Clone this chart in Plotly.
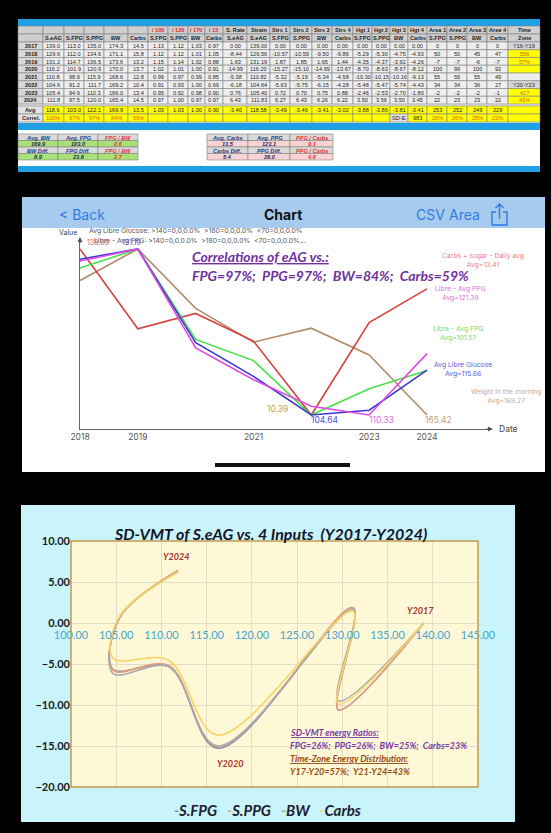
import plotly.graph_objects as go

W, H = 551, 833


def px(x):
    return x / W


def py(y):
    return 1 - y / H


# ---------------- DATA: spreadsheet table ----------------
years = ["2017", "2018", "2019", "2020", "2021", "2022", "2023", "2024"]
s_eag = [139.0, 129.6, 131.2, 116.2, 110.8, 104.6, 105.4, 111.8]
s_fpg = [113.0, 112.0, 114.7, 101.9, 98.9, 91.2, 94.9, 97.5]
s_ppg = [135.0, 134.6, 136.5, 120.9, 115.9, 111.7, 110.3, 120.0]
bw = [174.3, 171.1, 173.6, 170.0, 168.6, 169.2, 166.0, 165.4]
carbs = [14.5, 15.8, 13.2, 13.7, 12.8, 10.4, 13.4, 14.5]
n_fpg = [1.13, 1.12, 1.15, 1.02, 0.99, 0.91, 0.95, 0.97]
n_ppg = [1.12, 1.12, 1.14, 1.01, 0.97, 0.93, 0.92, 1.00]
n_bw = [1.03, 1.01, 1.02, 1.00, 0.99, 1.00, 0.98, 0.97]
n_carbs = [0.97, 1.05, 0.88, 0.91, 0.85, 0.69, 0.90, 0.97]
s_rate = [0.00, -8.44, 1.63, -14.99, -5.38, -6.18, 0.76, 6.43]
strain = [139.00, 129.56, 131.19, 116.20, 110.82, 104.64, 105.40, 111.83]
strs1 = [0.00, -10.57, 1.87, -15.27, -5.32, -5.63, 0.72, 6.27]
strs2 = [0.00, -10.59, 1.85, -15.10, -5.19, -5.75, 0.70, 6.43]
strs3 = [0.00, -9.50, 1.65, -14.99, -5.34, -6.15, 0.75, 6.26]
strs4 = [0.00, -9.86, 1.44, -13.67, -4.58, -4.28, 0.88, 6.22]
hgt1 = [0.00, -5.29, -4.35, -8.70, -10.30, -5.48, -2.46, 3.50]
hgt2 = [0.00, -5.30, -4.37, -8.63, -10.15, -5.47, -2.53, 3.56]
hgt3 = [0.00, -4.75, -3.92, -8.67, -10.16, -5.74, -2.70, 3.50]
hgt4 = [0.00, -4.93, -4.26, -8.12, -9.13, -4.43, -1.80, 3.45]
area1 = [0, 50, -7, 100, 55, 34, -2, 22]
area2 = [0, 50, -7, 99, 55, 34, -2, 23]
area3 = [0, 45, -6, 100, 55, 36, -2, 23]
area4 = [0, 47, -7, 92, 49, 27, -1, 22]
time_zone = ["Y16-Y19", "556", "57%", "", "", "Y20-Y23", "427", "43%"]

head1 = ["", "", "", "", "", "", "/ 100", "/ 120", "/ 170", "/ 15", "S. Rate", "Strain",
         "Strs 1", "Strs 2", "Strs 3", "Strs 4", "Hgt 1", "Hgt 2", "Hgt 3", "Hgt 4",
         "Area 1", "Area 2", "Area 3", "Area 4", "Time"]
head2 = ["", "S.eAG", "S.FPG", "S.PPG", "BW", "Carbs", "S.FPG", "S.PPG", "BW", "Carbs",
         "S.eAG", "S.eAG", "S.FPG", "S.PPG", "BW", "Carbs", "S.FPG", "S.PPG", "BW", "Carbs",
         "S.FPG", "S.PPG", "BW", "Carbs", "Zone"]
avg_row = ["Avg", "118.6", "103.0", "122.1", "169.9", "13.5", "1.03", "1.03", "1.00", "0.90",
           "-3.40", "118.58", "-3.49", "-3.46", "-3.41", "-3.02", "-3.88", "-3.86", "-3.81",
           "-3.41", "253", "252", "249", "229", ""]
correl_row = ["Correl.", "100%", "97%", "97%", "84%", "59%", "", "", "", "", "", "", "", "",
              "", "", "", "", "SD-E:", "983", "26%", "26%", "25%", "23%", ""]

# summary blocks
sum_left_h1 = ["Avg. BW", "Avg. FPG", "FPG / BW"]
sum_left_v1 = ["169.9", "103.0", "0.6"]
sum_left_h2 = ["BW Diff.", "FPG Diff.", "FPG / BW"]
sum_left_v2 = ["8.9", "23.6", "2.7"]
sum_mid_h1 = ["Avg. Carbs", "Avg. PPG", "PPG / Carbs"]
sum_mid_v1 = ["13.5", "123.1", "9.1"]
sum_mid_h2 = ["Carbs Diff.", "PPG Diff.", "PPG / Carbs"]
sum_mid_v2 = ["5.4", "26.0", "4.8"]

# ---------------- DATA: phone chart (Libre app) ----------------
libre_years = [2018, 2019, 2020, 2021, 2022, 2023, 2024]
libre_eag = [129.56, 131.19, 116.20, 110.82, 104.64, 105.40, 111.83]
libre_ppg = [134.6, 136.5, 120.9, 115.9, 111.7, 110.33, 120.0]
libre_fpg = [112.0, 114.7, 101.9, 98.9, 91.2, 94.9, 97.5]
carbs_daily = [15.8, 13.2, 13.7, 12.8, 10.39, 13.4, 14.5]
weight_morning = [171.2, 172.55, 170.0, 168.55, 169.15, 168.0, 165.42]
x_tick_years = [2018, 2019, 2021, 2023, 2024]

# ---------------- DATA: SD-VMT chart ----------------
vmt_series = [("S.FPG", strs1, "#7d86b8"), ("S.PPG", strs2, "#e3a07a"),
              ("BW", strs3, "#a9a9a9"), ("Carbs", strs4, "#f7d564")]
vmt_xticks = [100, 105, 110, 115, 120, 125, 130, 135, 140, 145]

shapes = []
annotations = []


def rect(x0, y0, x1, y1, fill, line=None, lw=0):
    shapes.append(dict(type="rect", xref="paper", yref="paper", x0=px(x0), x1=px(x1),
                       y0=py(y1), y1=py(y0), fillcolor=fill, layer="below",
                       line=dict(color=line or fill, width=lw)))


def text(x, y, t, size, color, family="Liberation Sans", weight="normal", style="normal",
         xanchor="center", yanchor="middle", under=False):
    if t == "":
        return
    f = dict(family=family, size=size, color=color, weight=weight, style=style)
    if under:
        f["lineposition"] = "under"
    annotations.append(dict(x=px(x), y=py(y), xref="paper", yref="paper", text=t,
                            showarrow=False, font=f, xanchor=xanchor, yanchor=yanchor))


# ================= TOP TABLE =================
col_widths = [25, 21, 20, 20, 24, 20, 20, 20, 17, 18, 24, 23, 20, 22, 20, 21, 19, 18, 18, 19,
              20, 20, 20, 21, 32]
edges = [18]
for w in col_widths:
    edges.append(edges[-1] + w)
TX0, TX1 = edges[0], edges[-1]

BLUE = "#1f9fe4"
HEAD = "#cfcfcf"
YCOL = "#d7d7d7"
CELL = "#eeeeee"
YEL = "#ffff00"
ORANGE = "#d9600f"
DARK = "#1e1e1e"
GRID = "#7f7f7f"

rect(TX0, 19, TX1, 26, BLUE)
rect(TX0, 26, TX1, 123, "#e6e6e6")

row_h = 7.75
table_rows = []
table_rows.append((26, 34, head1, [HEAD] * 25,
                   ["#e02828" if t.startswith("/") else DARK for t in head1], "bold"))
table_rows.append((34, 42, head2, [HEAD] * 25, [DARK] * 25, "bold"))
tz_fill = [YCOL, YEL, YEL, YEL, CELL, YCOL, YEL, YEL]
for i in range(8):
    vals = [years[i], f"{s_eag[i]:.1f}", f"{s_fpg[i]:.1f}", f"{s_ppg[i]:.1f}", f"{bw[i]:.1f}",
            f"{carbs[i]:.1f}", f"{n_fpg[i]:.2f}", f"{n_ppg[i]:.2f}", f"{n_bw[i]:.2f}",
            f"{n_carbs[i]:.2f}", f"{s_rate[i]:.2f}", f"{strain[i]:.2f}", f"{strs1[i]:.2f}",
            f"{strs2[i]:.2f}", f"{strs3[i]:.2f}", f"{strs4[i]:.2f}", f"{hgt1[i]:.2f}",
            f"{hgt2[i]:.2f}", f"{hgt3[i]:.2f}", f"{hgt4[i]:.2f}", str(area1[i]), str(area2[i]),
            str(area3[i]), str(area4[i]), time_zone[i]]
    fills = [YCOL] + [CELL] * 23 + [tz_fill[i]]
    cols = [DARK] * 24 + [DARK if time_zone[i].startswith("Y") else ORANGE]
    y0 = 42 + row_h * i
    table_rows.append((y0, y0 + row_h, vals, fills, cols, "normal"))

table_rows.append((106, 114, avg_row, ["#e2e2e2"] + [YEL] * 24, [DARK] * 25, "normal"))
correl_fill = ["#e2e2e2"] + [YEL] * 17 + ["#e2e2e2"] + [YEL] * 6
correl_col = [DARK] + [ORANGE] * 5 + [DARK] * 13 + [DARK] + [ORANGE] * 4 + [DARK]
table_rows.append((114, 122, correl_row, correl_fill, correl_col, "normal"))

for (y0, y1, vals, fills, cols, wt) in table_rows:
    for c in range(25):
        rect(edges[c], y0, edges[c + 1], y1, fills[c], GRID, 0.6)
        w = "bold" if (c == 0 or wt == "bold") else "normal"
        text((edges[c] + edges[c + 1]) / 2, (y0 + y1) / 2 + 0.3, vals[c], 5.6, cols[c], weight=w)

# blue band + summary area
rect(TX0, 123, TX1, 130, BLUE)
rect(TX0, 130, TX1, 166, "#ffffff")
rect(TX0, 166, TX1, 172, BLUE)

sum_rows_y = [134, 140.5, 147, 153.5, 160]
left_edges = [18, 58, 98, 138]
mid_edges = [207, 248, 290, 333]
blocks = [
    (left_edges, [sum_left_h1, sum_left_v1, sum_left_h2, sum_left_v2], "#a8e07a"),
    (mid_edges, [sum_mid_h1, sum_mid_v1, sum_mid_h2, sum_mid_v2], "#f8d3d3"),
]
for bedges, brows, vfill in blocks:
    for r, vals in enumerate(brows):
        y0, y1 = sum_rows_y[r], sum_rows_y[r + 1]
        is_head = (r % 2 == 0)
        for c in range(3):
            rect(bedges[c], y0, bedges[c + 1], y1, "#dadada" if is_head else vfill, GRID, 0.6)
            color = "#e03232" if c == 2 else "#1f3a86"
            if not is_head and c < 2:
                color = "#1c2a55"
            text((bedges[c] + bedges[c + 1]) / 2, (y0 + y1) / 2 + 0.3, vals[c], 5.6, color,
                 weight="bold", style="italic")

# ================= PHONE CHART =================
rect(22, 197, 545, 228, "#a7cbee")
rect(22, 228, 545, 472, "#ffffff")
rect(215, 463, 350, 467, "#111111")

text(57, 214, "< Back", 14, "#2f7be0", family="Inter", xanchor="left")
text(283, 214, "Chart", 14, "#111111", family="Inter", weight="bold")
text(414, 214, "CSV", 14, "#2f7be0", family="Inter", xanchor="left")
text(447, 214, "Area", 14, "#2f7be0", family="Inter", xanchor="left")


def path(points_list):
    parts = []
    for pts in points_list:
        seg = "M " + " L ".join(f"{px(x):.5f},{py(y):.5f}" for x, y in pts)
        parts.append(seg)
    return " ".join(parts)


shapes.append(dict(type="path", xref="paper", yref="paper", layer="above",
                   path=path([[(496, 212), (492, 212), (492, 225), (507, 225), (507, 212), (503, 212)],
                              [(499.5, 219), (499.5, 204)],
                              [(495.5, 208), (499.5, 204), (503.5, 208)]]),
                   line=dict(color="#2f7be0", width=1.4)))


def norm(vals):
    lo, hi = min(vals), max(vals)
    return [(v - lo) / (hi - lo) for v in vals]


phone_series = [
    ("Weight in the morning", weight_morning, "#ad8c6b"),
    ("Carbs + sugar - Daily avg", carbs_daily, "#d5423f"),
    ("Libre - Avg FPG", libre_fpg, "#46e046"),
    ("Avg Libre Glucose", libre_eag, "#3a3ad0"),
    ("Libre - Avg PPG", libre_ppg, "#e048e6"),
]

traces = []
for name, vals, color in phone_series:
    traces.append(go.Scatter(x=libre_years, y=norm(vals), mode="lines", name=name,
                             line=dict(color=color, width=1.6), xaxis="x2", yaxis="y2",
                             showlegend=False, hoverinfo="skip"))

# axis arrows
annotations.append(dict(x=px(493), y=py(429), xref="paper", yref="paper", ax=-8, ay=0,
                        text="", showarrow=True, arrowhead=2, arrowsize=1, arrowwidth=1,
                        arrowcolor="#555"))
annotations.append(dict(x=px(80), y=py(237), xref="paper", yref="paper", ax=0, ay=8,
                        text="", showarrow=True, arrowhead=2, arrowsize=1, arrowwidth=1,
                        arrowcolor="#555"))
text(497, 429, "Date", 8.5, "#444", family="Inter", xanchor="left")
text(68, 233, "Value", 7, "#444", family="Inter")
text(87, 230, "Avg Libre Glucose: >140=0,0,0.0%  >180=0,0,0.0%  <70=0,0,0.0%", 6.8, "#555",
     family="Inter", xanchor="left")
text(92, 241, "Libre - Avg FPG: >140=0,0,0.0%  >180=0,0,0.0%  <70=0,0,0.0%...", 6.8, "#555",
     family="Inter", xanchor="left")
text(98, 242, "138.00", 7, "#d05a78", family="Inter")
text(131, 242, "131.19", 7, "#7a3fc8", family="Inter")

text(190, 257, "Correlations of eAG vs.:", 14, "#7030a0", family="Lato", weight="bold",
     style="italic", xanchor="left", under=True)
text(190, 275, "FPG=97%;  PPG=97%;  BW=84%;  Carbs=59%", 14, "#7030a0", family="Lato",
     weight="bold", style="italic", xanchor="left")

# end-of-series labels
end_labels = [
    (483, 260, "Carbs + sugar - Daily avg<br>Avg=13.41", "#f0807a"),
    (460, 293, "Libre - Avg PPG<br>Avg=121.39", "#e06ee6"),
    (458, 333, "Libre - Avg FPG<br>Avg=101.57", "#6cdc6c"),
    (463, 369, "Avg Libre Glucose<br>Avg=115.66", "#5a5ae0"),
    (506, 396, "Weight in the morning<br>Avg=169.27", "#c8aa8c"),
]
for x, y, t, c in end_labels:
    text(x, y, t, 6.8, c, family="Inter")

# min-point value labels (anchored on the data)
point_labels = [
    (2022, norm(carbs_daily)[4], "10.39", "#c9a13c", -34, 6),
    (2022, norm(libre_eag)[4], "104.64", "#4c4cd8", 13, -5),
    (2023, norm(libre_ppg)[5], "110.33", "#e070e0", 12, -5),
    (2024, norm(weight_morning)[6], "165.42", "#bf9f80", 12, -5),
]
for x, y, t, c, xs, ys in point_labels:
    annotations.append(dict(x=x, y=y, xref="x2", yref="y2", text=t, showarrow=False,
                            xshift=xs, yshift=ys, font=dict(family="Inter", size=8.5, color=c)))

# ================= SD-VMT CHART =================
rect(21, 505, 515, 822, "#c9f4fb")
shapes.append(dict(type="rect", xref="x3 domain", yref="y3 domain", x0=0, x1=1, y0=0, y1=1,
                   fillcolor="#fff8d6", layer="below", line=dict(width=0)))
shapes.append(dict(type="rect", xref="x3 domain", yref="y3 domain", x0=0, x1=1, y0=0, y1=1,
                   fillcolor="rgba(0,0,0,0)", layer="above",
                   line=dict(color="#c49a4c", width=1.5)))

for name, ys, color in vmt_series:
    traces.append(go.Scatter(x=strain, y=ys, mode="lines", name=name,
                             line=dict(color=color, width=1.6, shape="spline", smoothing=1.0),
                             xaxis="x3", yaxis="y3", showlegend=False, hoverinfo="skip"))

text(270, 533, "SD-VMT of S.eAG vs. 4 Inputs  (Y2017-Y2024)", 16, "#15152a", family="Lato",
     weight="bold", style="italic")

year_tags = [(strain[7], strs1[7], "Y2024", -2, 15), (strain[0], strs1[0], "Y2017", -3, 13),
             (strain[3], strs1[3], "Y2020", 12, -15)]
for x, y, t, xs, ys in year_tags:
    annotations.append(dict(x=x, y=y, xref="x3", yref="y3", text=t, showarrow=False,
                            xshift=xs, yshift=ys,
                            font=dict(family="Lato", size=9, color="#a8322a", weight="bold",
                                      style="italic")))

text(288, 732, "SD-VMT energy Ratios:", 9, "#7a3aa8", family="Lato", weight="bold",
     style="italic", xanchor="left", under=True)
text(288, 745, "FPG=26%;  PPG=26%;  BW=25%;  Carbs=23%", 9, "#7a3aa8", family="Lato",
     weight="bold", style="italic", xanchor="left")
text(288, 758, "Time-Zone Energy Distribution:", 9, "#9a4a10", family="Lato", weight="bold",
     style="italic", xanchor="left", under=True)
text(288, 771, "Y17-Y20=57%;  Y21-Y24=43%", 9, "#9a4a10", family="Lato", weight="bold",
     style="italic", xanchor="left")

legend_txt = "   ".join(f"<span style='color:{c}'>-</span>{n}" for n, _, c in vmt_series)
text(267, 810, legend_txt, 15, "#1e1e2e", family="Lato", weight="bold", style="italic")

fig = go.Figure(traces)
fig.update_layout(
    template="none",
    width=W, height=H, margin=dict(l=0, r=0, t=0, b=0, pad=0, autoexpand=False),
    paper_bgcolor="#000000", plot_bgcolor="rgba(0,0,0,0)",
    showlegend=False, shapes=shapes, annotations=annotations,
    xaxis=dict(visible=False, range=[0, 1], domain=[0, 0.01], automargin=False),
    yaxis=dict(visible=False, range=[0, 1], domain=[0, 0.01], automargin=False),
    xaxis2=dict(domain=[px(80), px(490)], range=[2018, 2018 + 410 / 57.83], anchor="y2",
                automargin=False,
                showline=True, linecolor="#666", linewidth=1, ticks="", showgrid=False,
                zeroline=False, tickvals=x_tick_years, ticktext=[str(y) for y in x_tick_years],
                tickfont=dict(family="Inter", size=8.5, color="#555")),
    yaxis2=dict(domain=[py(429), py(240)], range=[-14 / 166, 1 + 9 / 166], anchor="x2",
                automargin=False,
                showline=True, linecolor="#666", linewidth=1, showticklabels=False,
                ticks="", showgrid=False, zeroline=False),
    xaxis3=dict(domain=[px(71), px(478)], range=[100, 145], anchor="free",
                automargin=False, ticklabelstandoff=5,
                position=py(622), tickvals=vmt_xticks, tickformat=".2f", ticks="",
                showline=False, showgrid=True, gridcolor="#e3ddc8", gridwidth=1,
                zeroline=False, tickfont=dict(family="Lato", size=11, color="#45a5d0")),
    yaxis3=dict(domain=[py(787), py(541)], range=[-20, 10], anchor="x3", dtick=5,
                automargin=False,
                tickformat=".2f", ticks="", showline=False, showgrid=True,
                gridcolor="#e3ddc8", gridwidth=1, zeroline=False,
                tickfont=dict(family="Lato", size=11, color="#1a1a1a", weight="bold")),
)
fig.write_html("out.html", config={"displayModeBar": False},
               post_script="document.body.style.margin='0px';"
                           "document.body.style.background='#000';"
                           "document.body.style.overflow='hidden';")
